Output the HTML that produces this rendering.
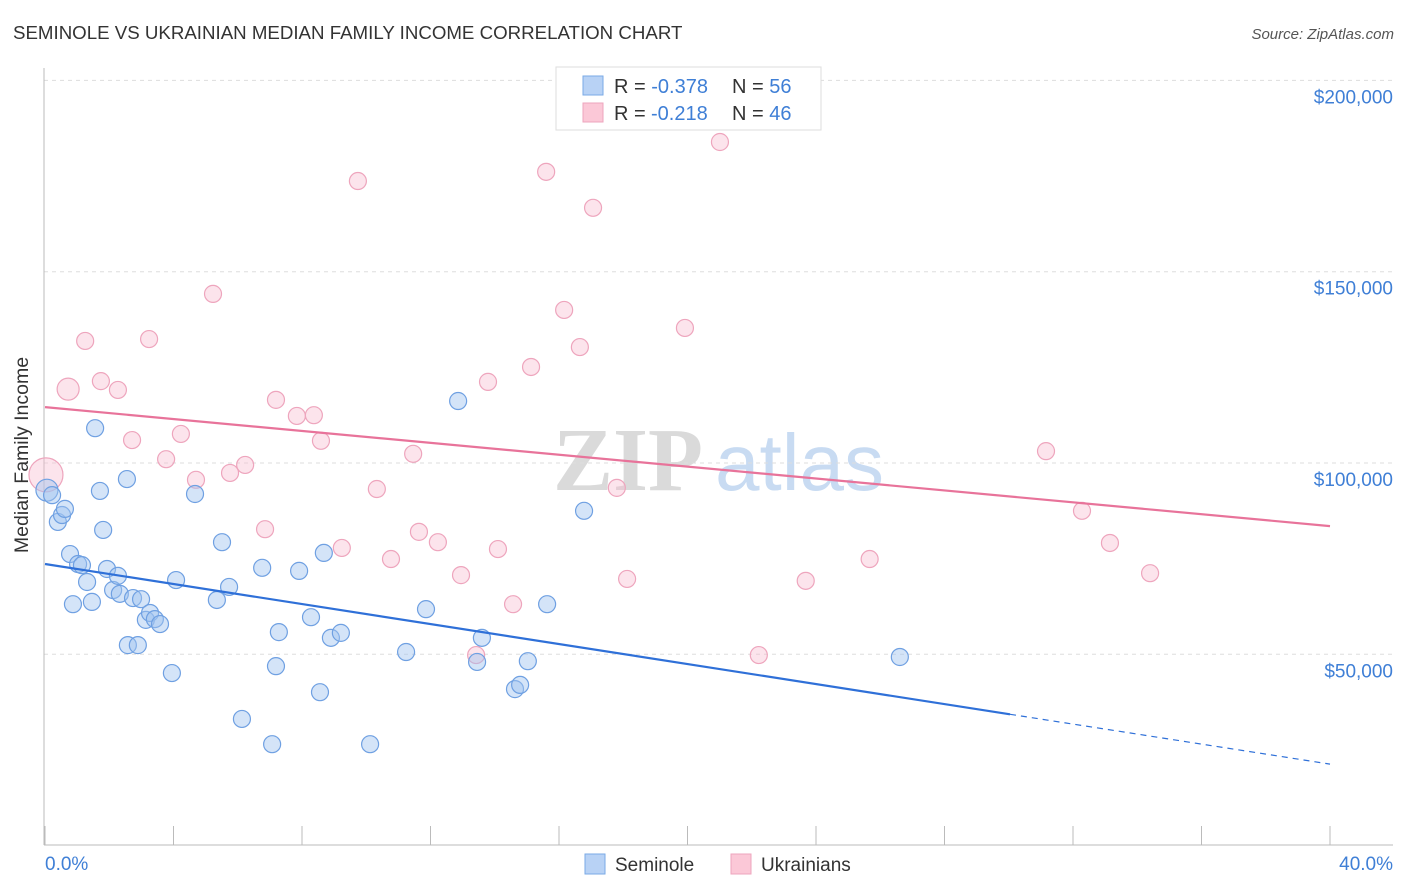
<!DOCTYPE html>
<html><head><meta charset="utf-8"><style>
body{margin:0;background:#fff;font-family:"Liberation Sans",sans-serif;}
svg{display:block}
</style></head><body>
<svg id="chart" width="1406" height="892">
<text x="13" y="39" font-size="18.7" fill="#333">SEMINOLE VS UKRAINIAN MEDIAN FAMILY INCOME CORRELATION CHART</text>
<text x="1394" y="39" font-size="15" fill="#555" text-anchor="end" font-style="italic">Source: ZipAtlas.com</text>
<g>
<text x="553" y="490" font-size="90" fill="#dadada" font-family="Liberation Serif,serif" font-weight="bold">ZIP</text>
<text x="715" y="490" font-size="80" fill="#c8dbf2">atlas</text>
</g>
<g id="grid"></g>
<g id="axes"></g>
<g id="pts"></g>
<g id="lines"></g>
<text x="28" y="455" font-size="19.5" fill="#333" text-anchor="middle" transform="rotate(-90 28 455)">Median Family Income</text>
<g>
<rect x="556" y="67" width="265" height="63" fill="#fff" stroke="#ddd"/>
<rect x="583" y="76" width="20" height="19" fill="#b8d2f5" stroke="#7aaae6"/>
<text x="614" y="93" font-size="20" fill="#333">R = <tspan fill="#3f7fd6">-0.378</tspan><tspan x="732">N = </tspan><tspan fill="#3f7fd6">56</tspan></text>
<rect x="583" y="103" width="20" height="19" fill="#fbc8d7" stroke="#eea5bd"/>
<text x="614" y="120" font-size="20" fill="#333">R = <tspan x="651" fill="#3f7fd6">-0.218</tspan><tspan x="732">N = </tspan><tspan fill="#3f7fd6">46</tspan></text>
</g>
<g>
<rect x="585" y="854" width="20" height="20" fill="#b8d2f5" stroke="#7aaae6"/>
<text x="615" y="871" font-size="19" fill="#333">Seminole</text>
<rect x="731" y="854" width="20" height="20" fill="#fbc8d7" stroke="#eea5bd"/>
<text x="761" y="871" font-size="19" fill="#333">Ukrainians</text>
</g>
</svg>
<script>
const yTicks=[50000,100000,150000,200000];
const yTickLabels=["$50,000","$100,000","$150,000","$200,000"];
const xTicks=[0,4,8,12,16,20,24,28,32,36,40];
const xEndLabels=["0.0%","40.0%"];
const seminoleX=[0.06,0.22,0.40,0.53,0.62,0.78,0.87,1.03,1.15,1.31,1.46,1.56,1.71,1.81,1.93,2.12,2.27,2.33,2.55,2.58,2.74,2.89,2.99,3.14,3.27,3.42,3.58,3.95,4.08,4.67,5.35,5.51,5.73,6.13,6.76,7.07,7.19,7.28,7.91,8.28,8.56,8.68,8.90,9.21,10.12,11.24,11.86,12.86,13.45,13.60,14.63,14.79,15.03,15.63,16.78,26.61];
const seminoleY=[92900,91600,84600,86400,88000,76200,63100,73600,73300,68900,63700,109100,92700,82500,72300,66800,70500,65800,95800,52400,64700,52400,64400,59000,60800,59200,57900,45100,69400,91900,64200,79300,67600,33100,72600,26500,46900,55800,71800,59700,40100,76500,54300,55600,26500,50600,61800,116200,48000,54300,40900,42000,48200,63100,87500,49300];
const ukrX=[0.03,0.72,1.25,1.74,2.27,2.71,3.24,3.77,4.23,4.70,5.23,5.76,6.23,6.85,7.19,7.84,8.37,8.59,9.24,9.74,10.33,10.77,11.46,11.64,12.23,12.95,13.42,13.79,14.10,14.57,15.13,15.60,16.16,16.65,17.06,17.80,18.12,19.92,21.01,22.22,23.68,25.67,31.16,32.28,33.15,34.40];
const ukrY=[96900,119300,131900,121400,119100,106000,132400,101000,107600,95600,144200,97400,99500,82700,116500,112300,112500,105800,77800,173700,93200,74900,102400,82000,79300,70700,49800,121200,77500,63100,125100,176100,140000,130300,166700,93500,69700,135300,183900,49800,69200,74900,103100,87500,79100,71200];
const seminoleSizes=[11];
const ukrSizes=[17,11];
const seminoleTrend=[73600,21300];
const ukrTrend=[114600,83500];
const seminoleSolidEnd=30.04;

const NS="http://www.w3.org/2000/svg";
const X=p=>45+p*(1285/40);
const Y=v=>463-(v-100000)*191.3/50000;
function mk(tag,attrs,parent){const e=document.createElementNS(NS,tag);for(const k in attrs)e.setAttribute(k,attrs[k]);document.getElementById(parent).appendChild(e);return e;}

yTicks.forEach((v,i)=>{
  const g=mk('line',{x1:44,x2:1393,y1:Y(v),y2:Y(v),stroke:'#ddd','stroke-dasharray':'4,4'},'grid');
  
  
  const t=mk('text',{x:1393,y:Y(v)+23,'font-size':19,fill:'#3f7fd6','text-anchor':'end'},'grid');
  t.textContent=yTickLabels[i];
  
  
});
const ya=mk('line',{x1:44,x2:44,y1:68,y2:845,stroke:'#bbb'},'axes');


const xa=mk('line',{x1:44,x2:1393,y1:845,y2:845,stroke:'#bbb'},'axes');


xTicks.forEach(p=>{
  const t=mk('line',{x1:X(p),x2:X(p),y1:826,y2:845,stroke:'#bbb'},'axes');
  
  
});
const l0=mk('text',{x:45,y:870,'font-size':19,fill:'#3f7fd6'},'axes');l0.textContent=xEndLabels[0];


const l1=mk('text',{x:1393,y:870,'font-size':19,fill:'#3f7fd6','text-anchor':'end'},'axes');l1.textContent=xEndLabels[1];



ukrX.forEach((p,i)=>{
  const c=mk('circle',{cx:X(p),cy:Y(ukrY[i]),r:ukrSizes[i]||8.5,fill:'rgba(248,185,205,0.38)',stroke:'#eea5bd','stroke-width':1.2},'pts');
  
  
});
seminoleX.forEach((p,i)=>{
  const c=mk('circle',{cx:X(p),cy:Y(seminoleY[i]),r:seminoleSizes[i]||8.5,fill:'rgba(160,195,240,0.45)',stroke:'#6fa0e2','stroke-width':1.2},'pts');
  
  
});
const at=(tr,p)=>tr[0]+(tr[1]-tr[0])*p/40;
const bl=mk('line',{x1:X(0),y1:Y(seminoleTrend[0]),x2:X(seminoleSolidEnd),y2:Y(at(seminoleTrend,seminoleSolidEnd)),stroke:'#2f70d8','stroke-width':2.2},'lines');


const bd=mk('line',{x1:X(seminoleSolidEnd),y1:Y(at(seminoleTrend,seminoleSolidEnd)),x2:X(40),y2:Y(seminoleTrend[1]),stroke:'#2f70d8','stroke-width':1.2,'stroke-dasharray':'6,5'},'lines');


const pl=mk('line',{x1:X(0),y1:Y(ukrTrend[0]),x2:X(40),y2:Y(ukrTrend[1]),stroke:'#e8739a','stroke-width':2.2},'lines');


</script>
</body></html>
